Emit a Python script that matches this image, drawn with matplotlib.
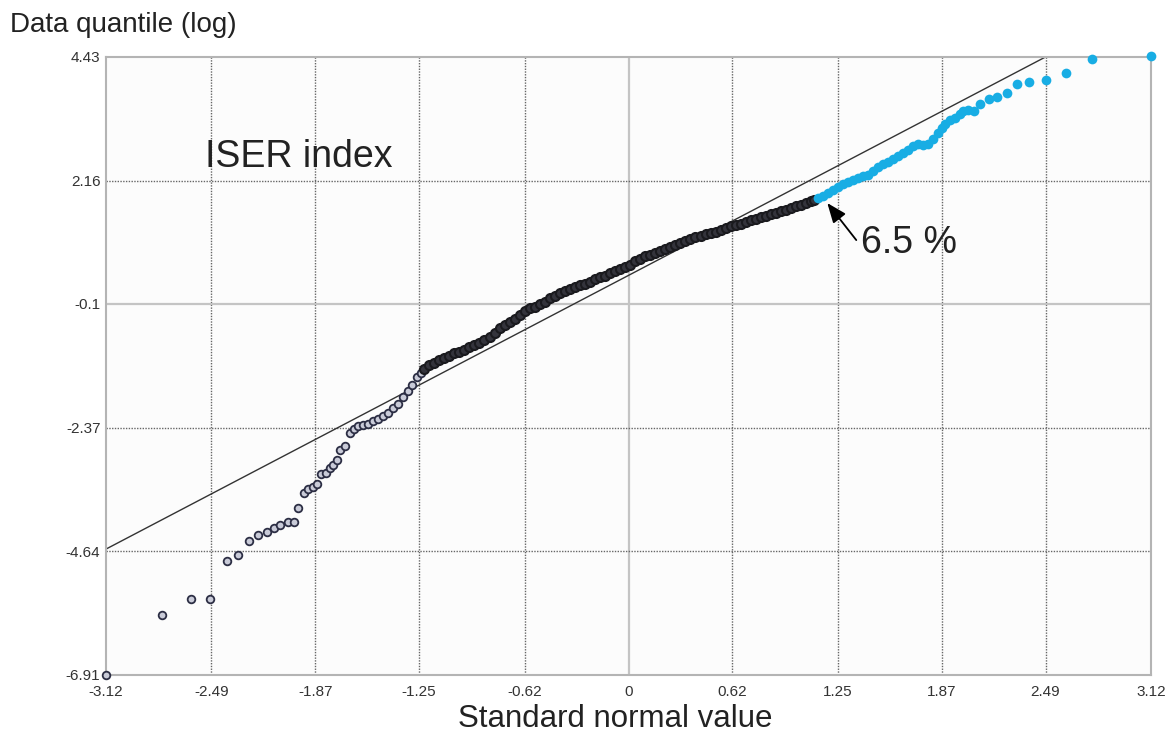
import matplotlib
matplotlib.use('Agg')
import matplotlib.pyplot as plt

# theoretical quantiles (x) and log data quantiles (y)
tail_x = [-3.12, -2.785, -2.615, -2.496, -2.40, -2.329, -2.267, -2.212, -2.16, -2.118,
          -2.082, -2.036, -1.999, -1.973, -1.939, -1.913, -1.884, -1.858, -1.834, -1.808,
          -1.78, -1.764, -1.74, -1.72, -1.69, -1.661, -1.641, -1.615, -1.585, -1.556,
          -1.526, -1.496, -1.466, -1.436, -1.406, -1.376, -1.347, -1.317, -1.29, -1.265,
          -1.24]
tail_y = [-6.91, -5.81, -5.52, -5.52, -4.82, -4.71, -4.45, -4.35, -4.28, -4.22,
          -4.16, -4.10, -4.10, -3.84, -3.58, -3.49, -3.46, -3.40, -3.23, -3.20,
          -3.12, -3.06, -2.97, -2.79, -2.71, -2.47, -2.39, -2.35, -2.33, -2.31,
          -2.25, -2.21, -2.16, -2.10, -2.01, -1.93, -1.81, -1.70, -1.58, -1.45,
          -1.36]

body_x = [-1.22, -1.19, -1.16, -1.13, -1.10, -1.07, -1.04, -1.01, -0.98, -0.95,
          -0.92, -0.89, -0.86, -0.83, -0.80, -0.77, -0.74, -0.71, -0.68, -0.65,
          -0.62, -0.59, -0.56, -0.53, -0.50, -0.47, -0.44, -0.41, -0.38, -0.35,
          -0.32, -0.29, -0.26, -0.23, -0.20, -0.17, -0.14, -0.11, -0.08, -0.05,
          -0.02, 0.01, 0.04, 0.07, 0.10, 0.13, 0.16, 0.19, 0.22, 0.25,
          0.28, 0.31, 0.34, 0.37, 0.40, 0.43, 0.46, 0.49, 0.52, 0.55,
          0.58, 0.61, 0.64, 0.67, 0.70, 0.73, 0.76, 0.79, 0.82, 0.85,
          0.88, 0.91, 0.94, 0.97, 1.00, 1.03, 1.06, 1.09, 1.11]
body_y = [-1.30, -1.23, -1.18, -1.13, -1.09, -1.05, -1.01, -0.98, -0.94, -0.90,
          -0.86, -0.81, -0.76, -0.70, -0.63, -0.55, -0.49, -0.43, -0.37, -0.30,
          -0.23, -0.18, -0.15, -0.11, -0.06, 0.00, 0.05, 0.09, 0.13, 0.17,
          0.20, 0.24, 0.27, 0.31, 0.35, 0.39, 0.42, 0.46, 0.50, 0.54,
          0.58, 0.62, 0.68, 0.73, 0.77, 0.80, 0.84, 0.87, 0.91, 0.95,
          0.98, 1.02, 1.05, 1.09, 1.12, 1.15, 1.18, 1.20, 1.22, 1.25,
          1.29, 1.32, 1.35, 1.37, 1.40, 1.43, 1.46, 1.49, 1.51, 1.54,
          1.57, 1.60, 1.63, 1.66, 1.69, 1.72, 1.75, 1.78, 1.80]

# upper 6.5 % (highlighted)
top_x = [1.13, 1.16, 1.19, 1.22, 1.25, 1.28, 1.31, 1.34, 1.37, 1.40,
         1.43, 1.46, 1.49, 1.52, 1.55, 1.58, 1.61, 1.64, 1.67, 1.70,
         1.73, 1.76, 1.79, 1.82, 1.85, 1.87, 1.89, 1.92, 1.95, 1.98,
         2.00, 2.03, 2.06, 2.10, 2.15, 2.20, 2.26, 2.32, 2.39, 2.49,
         2.61, 2.77, 3.12]
top_y = [1.84, 1.88, 1.94, 1.99, 2.05, 2.09, 2.13, 2.17, 2.21, 2.25,
         2.27, 2.33, 2.41, 2.47, 2.51, 2.56, 2.61, 2.67, 2.73, 2.79,
         2.83, 2.82, 2.84, 2.93, 3.03, 3.12, 3.20, 3.27, 3.31, 3.38,
         3.44, 3.46, 3.44, 3.56, 3.65, 3.70, 3.76, 3.94, 3.97, 4.01,
         4.13, 4.39, 4.45]

# reference line end points
ref_x = [-3.12, 2.49]
ref_y = [-4.60, 4.43]

xticks = [-3.12, -2.49, -1.87, -1.25, -0.62, 0, 0.62, 1.25, 1.87, 2.49, 3.12]
yticks = [4.43, 2.16, -0.1, -2.37, -4.64, -6.91]

FONT = ['Liberation Sans', 'DejaVu Sans']

fig = plt.figure(figsize=(11.75, 7.38), dpi=100)
ax = fig.add_axes([0.0902, 0.0854, 0.8894, 0.8374])
ax.set_facecolor('#fcfcfc')

ax.set_xlim(xticks[0], xticks[-1])
ax.set_ylim(yticks[-1], yticks[0])

# grid: solid light lines through the centre, dotted elsewhere
for v in xticks[1:-1]:
    if v == 0:
        ax.axvline(v, color='#c4c4c4', lw=1.6, zorder=1)
    else:
        ax.axvline(v, color='#666666', lw=1.0, ls=(0, (1, 1)), zorder=1)
for v in yticks[1:-1]:
    if v == -0.1:
        ax.axhline(v, color='#c4c4c4', lw=1.6, zorder=1)
    else:
        ax.axhline(v, color='#666666', lw=1.0, ls=(0, (1, 1)), zorder=1)

ax.axline((ref_x[0], ref_y[0]), (ref_x[1], ref_y[1]), color='#333333', lw=1.0, zorder=2)

ax.plot(tail_x, tail_y, 'o', ms=5.5, mfc='#c9cbd8', mec='#2c2e44', mew=1.3,
        zorder=3, clip_on=False)
ax.plot(body_x, body_y, 'o', ms=6.5, mfc='#34343c', mec='#1a1a1e', mew=1.5, zorder=3)
ax.plot(top_x, top_y, 'o', ms=7, color='#18ade4', mec='none', zorder=4,
        clip_on=False)

for s in ax.spines.values():
    s.set_color('#b4b4b4')
    s.set_linewidth(1.5)

ax.set_xticks(xticks)
ax.set_xticklabels([('%g' % v) for v in xticks])
ax.set_yticks(yticks)
ax.set_yticklabels([('%g' % v) for v in yticks])
ax.tick_params(length=0, labelcolor='#333333', labelsize=11)
ax.tick_params(axis='x', pad=7)
ax.tick_params(axis='y', pad=4)
for lab in ax.get_xticklabels() + ax.get_yticklabels():
    lab.set_family(FONT)

ax.text(-2.53, 2.60, 'ISER index', fontsize=27, family=FONT, color='#222222',
        ha='left', va='center')

# arrow pointing at the start of the top 6.5 %
ax.annotate('', xy=(1.187, 1.75), xytext=(1.36, 1.07),
            arrowprops=dict(arrowstyle='-|>,head_length=1.0,head_width=0.4',
                            mutation_scale=12, color='black', lw=1.3,
                            shrinkA=0, shrinkB=0))
ax.text(1.39, 1.02, '6.5 %', fontsize=27, family=FONT, color='#222222',
        ha='left', va='center')

fig.text(10 / 1175, 1 - 25 / 738, 'Data quantile (log)', fontsize=20,
         family=FONT, color='#222222', ha='left', va='center')
fig.text(615 / 1175, 1 - 719 / 738, 'Standard normal value', fontsize=22.5,
         family=FONT, color='#222222', ha='center', va='center')

fig.savefig('out.png', dpi=100, facecolor='white')
